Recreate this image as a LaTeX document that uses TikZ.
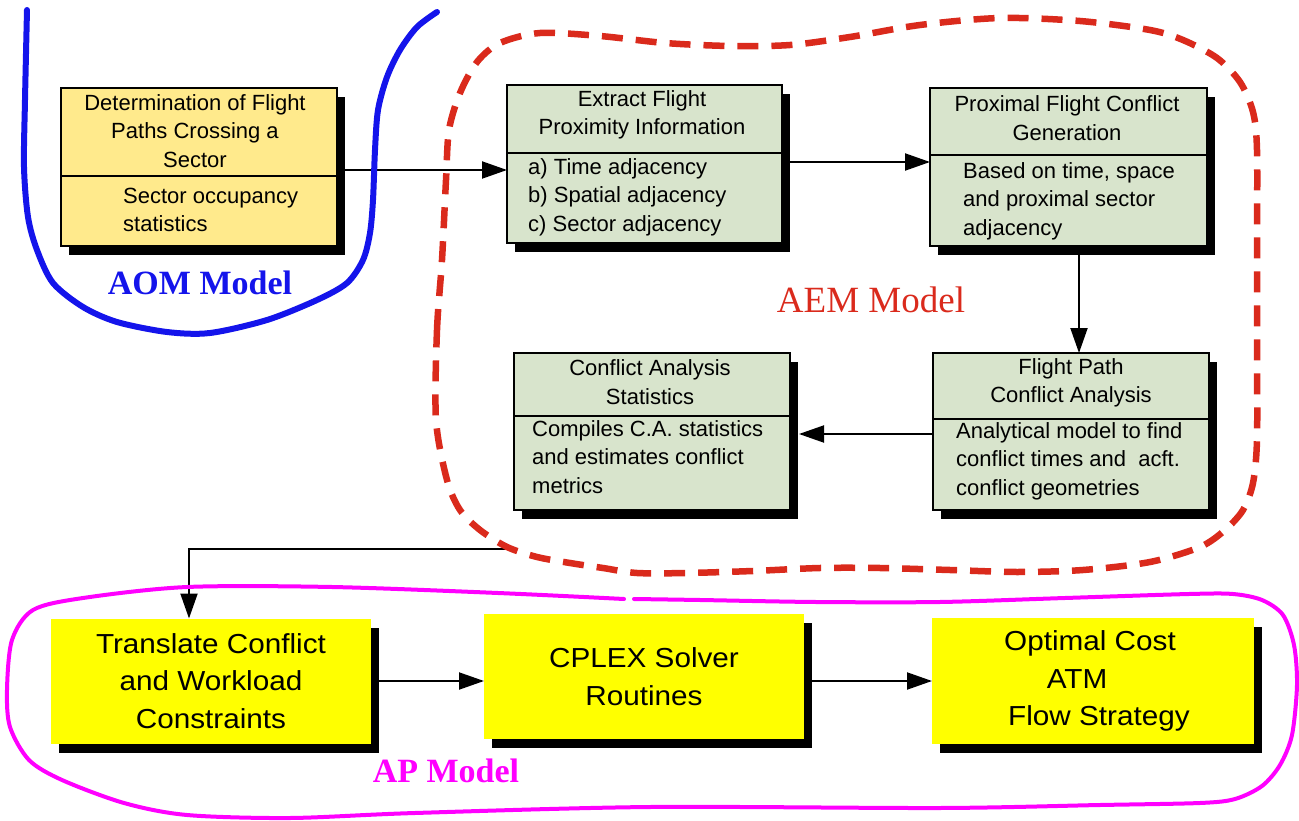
\documentclass[tikz,border=0pt]{standalone}
\usepackage{fontspec}
\setmainfont{Liberation Sans}
\newfontfamily\labelserif{Liberation Serif}
\newfontfamily\widesans[FakeStretch=1.08]{Liberation Sans}
\usetikzlibrary{arrows.meta,shadows}

\definecolor{paleyellow}{RGB}{255,234,140}
\definecolor{boxgreen}{RGB}{216,228,204}
\definecolor{brightyellow}{RGB}{255,255,0}
\definecolor{aemred}{RGB}{218,42,28}
\definecolor{aomblue}{RGB}{20,20,235}
\definecolor{apmagenta}{RGB}{255,0,255}

\begin{document}
\begin{tikzpicture}[x=1pt,y=-1pt,
  blackshadow/.style={general shadow={fill=black,shadow xshift=8pt,shadow yshift=-9pt}},
  flowbox/.style={draw=black,line width=2pt,inner sep=0pt,outer sep=0pt,blackshadow},
  solverbox/.style={fill=brightyellow,inner sep=0pt,outer sep=0pt,blackshadow,
    align=center,font=\widesans\fontsize{27.5}{37.5}\selectfont},
  divline/.style={line width=2pt},
  headtext/.style={inner sep=0pt,align=center,font=\fontsize{22}{28.5}\selectfont},
  bodytext/.style={inner sep=0pt,align=left,anchor=west,font=\fontsize{22}{28.5}\selectfont},
  arr/.style={line width=2pt,-{Triangle[length=25pt,width=17pt]}},
  aomline/.style={draw=aomblue,line width=6pt,line cap=round},
  aemline/.style={draw=aemred,line width=6.5pt,dash pattern=on 21pt off 13pt},
  apline/.style={draw=apmagenta,line width=4pt,line cap=round},
]
\useasboundingbox (0,0) rectangle (1299,821);

% AOM stage
\node[flowbox,fill=paleyellow,minimum width=276pt,minimum height=158pt] (b1) at (199,167) {};
\draw[divline] ([yshift=-88pt]b1.north west) -- ([yshift=-88pt]b1.north east);
\node[headtext] (h1) at (195,131) {Determination of Flight\\Paths Crossing a\\Sector};
\node[bodytext] (t1) at (123,210) {Sector occupancy\\statistics};

% AEM stage
\node[flowbox,fill=boxgreen,minimum width=275pt,minimum height=158pt] (b2) at (644.5,164) {};
\draw[divline] ([yshift=-68pt]b2.north west) -- ([yshift=-68pt]b2.north east);
\node[headtext] (h2) at (642,115) {Extract Flight\\Proximity Information};
\node[bodytext] (t2) at (528,197) {a) Time adjacency\\b) Spatial adjacency\\c) Sector adjacency};

\node[flowbox,fill=boxgreen,minimum width=277pt,minimum height=158pt] (b3) at (1068.5,167) {};
\draw[divline] ([yshift=-67pt]b3.north west) -- ([yshift=-67pt]b3.north east);
\node[headtext] (h3) at (1067,118) {Proximal Flight Conflict\\Generation};
\node[bodytext] (t3) at (963,201) {Based on time, space\\and proximal sector\\adjacency};

\node[flowbox,fill=boxgreen,minimum width=276pt,minimum height=157pt] (b4) at (652,431.5) {};
\draw[divline] ([yshift=-63pt]b4.north west) -- ([yshift=-63pt]b4.north east);
\node[headtext] (h4) at (650,382) {Conflict Analysis\\Statistics};
\node[bodytext] (t4) at (532,457) {Compiles C.A. statistics\\and estimates conflict\\metrics};

\node[flowbox,fill=boxgreen,minimum width=276pt,minimum height=157pt] (b5) at (1071,431.5) {};
\draw[divline] ([yshift=-66pt]b5.north west) -- ([yshift=-66pt]b5.north east);
\node[headtext] (h5) at (1071,383) {Flight Path\\Conflict Analysis};
\node[bodytext] (t5) at (956,461) {Analytical model to find\\conflict times and\ \ acft.\\conflict geometries};

% AP stage
\node[solverbox,minimum width=320pt,minimum height=125pt] (b6) at (211,681) {Translate Conflict\\and Workload\\Constraints};
\node[solverbox,minimum width=320pt,minimum height=125pt] (b7) at (644,676.5) {CPLEX Solver\\Routines};
\node[solverbox,minimum width=322pt,minimum height=126pt] (b8) at (1093,681) {\hspace*{-6pt}Optimal Cost\\\hspace*{-32pt}ATM\\\hspace*{12pt}Flow Strategy};

% connectors
\coordinate (s12) at ([yshift=-3pt]b1.east);
\draw[arr] (s12) -- (s12 -| b2.west);
\coordinate (s23) at ([yshift=2pt]b2.east);
\draw[arr] (s23) -- (s23 -| b3.west);
\coordinate (s35) at ([xshift=10.5pt]b3.south);
\draw[arr] (s35) -- (s35 |- b5.north);
\coordinate (s54) at ([yshift=-2.5pt]b5.west);
\coordinate (e54) at ([xshift=9pt]b4.east);
\draw[arr] (s54) -- (s54 -| e54);
\coordinate (aemexit) at (507,549);
\draw[arr] (aemexit) -| ([xshift=-22pt]b6.north);
\draw[arr] (b6.east) -- (b6.east -| b7.west);
\coordinate (s78) at ([yshift=-4.5pt]b7.east);
\draw[arr] (s78) -- (s78 -| b8.west);

% model outlines
\draw[aomline] plot[smooth,tension=0.5] coordinates {(27,10) (25,100) (24,167) (28,217) (37,250) (53,283) (83,307) (117,322) (167,332) (210,333) (267,320) (317,300) (347,283) (363,260) (370,233) (373,200) (375,150) (378,110) (387,77) (400,50) (417,27) (437,12)};
\draw[aemline] plot[smooth cycle,tension=0.5] coordinates {(436,420) (437,330) (442,260) (446,180) (449,130) (460,93) (477,62) (500,43) (540,33) (600,36) (665,43) (730,46) (790,45) (850,37) (920,25) (1000,18) (1080,21) (1150,30) (1183,40) (1217,58) (1240,82) (1253,112) (1257,150) (1257,250) (1257,350) (1257,440) (1253,483) (1243,510) (1225,530) (1200,547) (1150,562) (1083,570) (1017,572) (950,570) (880,568) (820,568) (753,571) (687,573) (637,573) (603,568) (570,563) (537,557) (507,547) (480,530) (460,510) (447,480)};
\draw[apline] plot[smooth,tension=0.5] coordinates {(634,599) (700,600) (816,602) (940,602) (1065,598) (1189,594) (1233,594) (1262,600) (1283,615) (1294,645) (1297,685) (1292,735) (1280,765) (1262,786) (1235,799) (1200,803) (1100,805) (940,808) (650,807) (415,813) (290,818) (187,815) (124,803) (62,780) (29,760) (10,727) (7,690) (12,640) (33,610) (83,598) (187,587) (332,587) (498,593) (624,599)};

% model labels
\node[font=\labelserif\bfseries\fontsize{34}{34}\selectfont,text=aomblue,inner sep=0pt] (aomlabel) at (200,283) {AOM Model};
\node[font=\labelserif\fontsize{37}{37}\selectfont,text=aemred,inner sep=0pt] (aemlabel) at (871,300) {AEM Model};
\node[font=\labelserif\bfseries\fontsize{34}{34}\selectfont,text=apmagenta,inner sep=0pt] (aplabel) at (446,771) {AP Model};
\end{tikzpicture}
\end{document}
